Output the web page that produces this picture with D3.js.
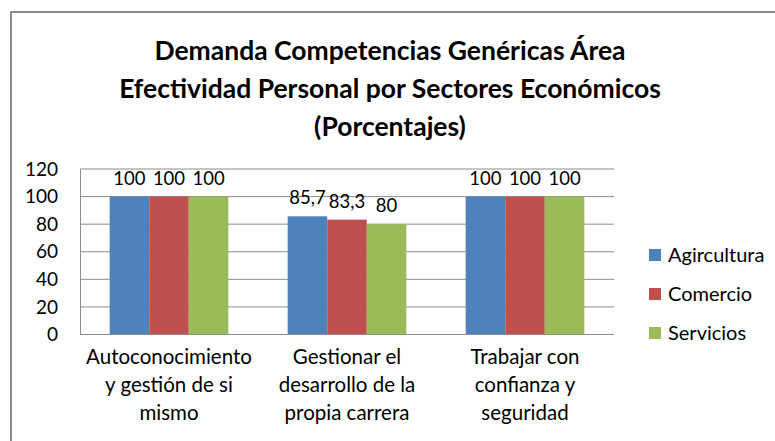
<!DOCTYPE html>
<html lang="es">
<head>
<meta charset="UTF-8">
<title>Demanda Competencias Genéricas</title>
<script src="https://d3js.org/d3.v7.min.js"></script>
<style>
  body { margin: 0; background: #fff; }
  text { font-family: Lato, "Open Sans", sans-serif; fill: #000; }
</style>
</head>
<body>
<svg width="775" height="441"></svg>
<script>
const categorias = [
  ["Autoconocimiento", "y gestión de si", "mismo"],
  ["Gestionar el", "desarrollo de la", "propia carrera"],
  ["Trabajar con", "confianza y", "seguridad"]
];
const series = ["Agircultura", "Comercio", "Servicios"];
const agricultura = [100, 85.7, 100];
const comercio = [100, 83.3, 100];
const servicios = [100, 80, 100];
const yTicks = [0, 20, 40, 60, 80, 100, 120];
const titulo = [
  "Demanda Competencias Genéricas Área",
  "Efectividad Personal por Sectores Económicos",
  "(Porcentajes)"
];

const valores = [agricultura, comercio, servicios];
const colores = ["#4F81BD", "#C0504D", "#9BBB59"];

const svg = d3.select("svg");

// chart border
svg.append("rect")
  .attr("x", 11).attr("y", 12)
  .attr("width", 800).attr("height", 500)
  .attr("fill", "none")
  .attr("stroke", "#8c8c8c")
  .attr("stroke-width", 2);

// title
svg.append("g").selectAll("text")
  .data(titulo)
  .enter().append("text")
  .attr("x", 390)
  .attr("y", (d, i) => 51 + i * 38)
  .attr("dy", "0.35em")
  .attr("text-anchor", "middle")
  .style("font-size", "26.5px")
  .style("font-weight", "bold")
  .text(d => d);

const plotLeft = 80, plotRight = 614, plotTop = 169, plotBottom = 334.5;

const y = d3.scaleLinear().domain([0, 120]).range([plotBottom, plotTop]);
const x = d3.scaleBand().domain(d3.range(categorias.length)).range([plotLeft, plotRight]);
const gap = x.bandwidth() * 1.5 / 4.5;
const xs = d3.scaleBand().domain(d3.range(series.length)).range([gap / 2, x.bandwidth() - gap / 2]);

// gridlines
svg.append("g").selectAll("line")
  .data(yTicks.filter(t => t > 0))
  .enter().append("line")
  .attr("x1", plotLeft).attr("x2", plotRight)
  .attr("y1", d => y(d)).attr("y2", d => y(d))
  .attr("stroke", "#8c8c8c")
  .attr("stroke-width", 1);

// y axis
const yAxis = svg.append("g")
  .attr("transform", `translate(${plotLeft},0)`)
  .call(d3.axisLeft(y).tickValues(yTicks).tickSize(0).tickPadding(22));
yAxis.select(".domain").attr("stroke", "#8c8c8c");
yAxis.selectAll("text").style("font-size", "19px").style("font-family", "Lato, sans-serif");

// bars
const grupos = svg.append("g").selectAll("g")
  .data(categorias)
  .enter().append("g")
  .attr("transform", (d, i) => `translate(${x(i)},0)`);

grupos.each(function (c, ci) {
  const g = d3.select(this);
  series.forEach((s, si) => {
    const v = valores[si][ci];
    g.append("rect")
      .attr("x", xs(si))
      .attr("y", y(v))
      .attr("width", xs.bandwidth())
      .attr("height", y(0) - y(v))
      .attr("fill", colores[si]);
    g.append("text")
      .attr("x", xs(si) + xs.bandwidth() / 2)
      .attr("y", y(v) - 12)
      .attr("text-anchor", "middle")
      .style("font-size", "18.5px")
      .text(String(v).replace(".", ","));
  });
});

// x axis
svg.append("line")
  .attr("x1", plotLeft).attr("x2", plotRight)
  .attr("y1", plotBottom).attr("y2", plotBottom)
  .attr("stroke", "#8c8c8c");

svg.append("g").selectAll("text")
  .data(categorias)
  .enter().append("text")
  .attr("text-anchor", "middle")
  .style("font-size", "20.5px")
  .attr("transform", (d, i) => `translate(${x(i) + x.bandwidth() / 2},357)`)
  .each(function (lineas) {
    d3.select(this).selectAll("tspan")
      .data(lineas)
      .enter().append("tspan")
      .attr("x", 0)
      .attr("y", (d, i) => i * 28)
      .attr("dy", "0.35em")
      .text(d => d);
  });

// legend
const leyenda = svg.append("g").selectAll("g")
  .data(series)
  .enter().append("g")
  .attr("transform", (d, i) => `translate(649,${255 + i * 39})`);
leyenda.append("rect")
  .attr("x", 0).attr("y", -6)
  .attr("width", 12).attr("height", 12)
  .attr("fill", (d, i) => colores[i]);
leyenda.append("text")
  .attr("x", 19)
  .attr("dy", "0.35em")
  .style("font-size", "20px")
  .text(d => d);
</script>
</body>
</html>
